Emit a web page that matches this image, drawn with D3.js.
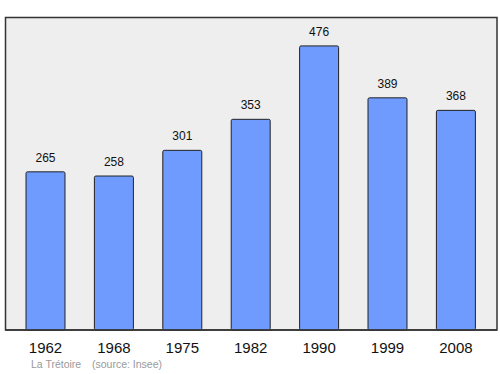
<!DOCTYPE html>
<html><head><meta charset="utf-8">
<script src="https://cdn.jsdelivr.net/npm/d3@7"></script>
<style>body{margin:0;background:#fff}svg{display:block}</style>
</head><body>
<script>
const years = ["1962","1968","1975","1982","1990","1999","2008"];
const population = [265,258,301,353,476,389,368];
const title = "La Trétoire";
const source = "(source: Insee)";

const W = 500, H = 374;
const svg = d3.select("body").append("svg").attr("width", W).attr("height", H);
const font = "Liberation Sans, Arial, sans-serif";

const plot = {x0: 5.5, y0: 17.5, x1: 497, y1: 330};
svg.append("rect").attr("x", plot.x0).attr("y", plot.y0)
  .attr("width", plot.x1 - plot.x0).attr("height", plot.y1 - plot.y0)
  .attr("fill", "#eeeeee").attr("stroke", "#333").attr("stroke-width", 1.5);

const x = d3.scaleBand().domain(years).range([11.3, 490.1]).paddingInner(0.43).paddingOuter(0.215);
const y = d3.scaleLinear().domain([0, d3.max(population) * 1.1]).range([plot.y1, plot.y0]);

svg.selectAll("rect.bar").data(population).join("rect").attr("class", "bar")
  .attr("x", (d, i) => x(years[i]))
  .attr("y", d => y(d))
  .attr("width", x.bandwidth())
  .attr("height", d => plot.y1 - y(d))
  .attr("rx", 1.5)
  .attr("fill", "#6f9bff").attr("stroke", "#222").attr("stroke-width", 1);

svg.selectAll("text.val").data(population).join("text").attr("class", "val")
  .attr("x", (d, i) => x(years[i]) + x.bandwidth() / 2)
  .attr("y", d => y(d) - 10)
  .attr("text-anchor", "middle").attr("font-family", font).attr("font-size", 12).attr("fill", "#111")
  .text(d => d);

svg.append("line").attr("x1", plot.x0).attr("x2", plot.x1).attr("y1", plot.y1).attr("y2", plot.y1)
  .attr("stroke", "#333").attr("stroke-width", 1.5);

const xAxis = svg.append("g").attr("transform", `translate(0,${plot.y1})`)
  .call(d3.axisBottom(x).tickSize(0).tickPadding(0));
xAxis.select(".domain").remove();
xAxis.selectAll("text").attr("dy", null).attr("y", 23)
  .attr("font-family", font).attr("font-size", 15).attr("fill", "#111");

svg.append("text").attr("x", 31).attr("y", 368).attr("font-family", font).attr("font-size", 10.5)
  .attr("fill", "#999").text(title);
svg.append("text").attr("x", 92).attr("y", 368).attr("font-family", font).attr("font-size", 10.5)
  .attr("fill", "#999").text(source);
</script>
</body></html>
